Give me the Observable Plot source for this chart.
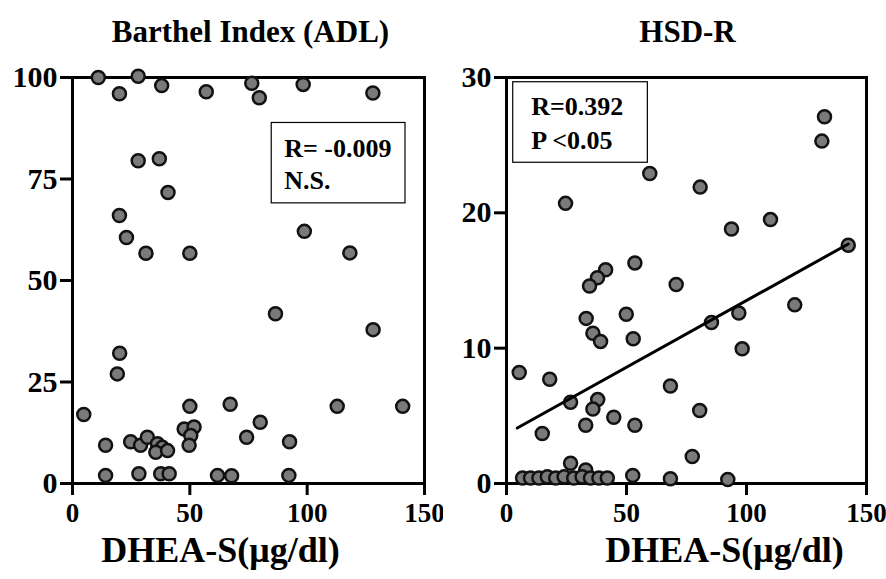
<!DOCTYPE html>
<html>
<head>
<meta charset="utf-8">
<script src="https://cdn.jsdelivr.net/npm/d3@7"></script>
<script src="https://cdn.jsdelivr.net/npm/@observablehq/plot@0.6"></script>
<style>
  html, body { margin: 0; padding: 0; background: #fff; }
  #wrap { display: flex; width: 886px; height: 579px; }
</style>
</head>
<body>
<div id="wrap"></div>
<script>
// ---------- Data ----------
const titles = ["Barthel Index (ADL)", "HSD-R"];
const xLabel = "DHEA-S(μg/dl)";
const xTicks = [0, 50, 100, 150];
const leftYTicks = [0, 25, 50, 75, 100];
const rightYTicks = [0, 10, 20, 30];

// Barthel Index (ADL) vs DHEA-S
const leftX = [11, 28, 20, 38, 57, 76.4, 79.6, 98.3, 128,
  28, 37, 40.7, 20, 23, 31.3, 50, 98.8, 118.2, 86.5, 128.1,
  20.1, 19.1, 4.8, 50, 67.2, 112.8, 140.7, 80, 74.2, 92.5,
  14.1, 24.8, 29, 31.9, 36.2, 38.3, 35.5, 40.5, 47.6, 51.8, 50.4, 49.7,
  14.1, 28.3, 37.6, 41.2, 61.8, 67.8, 92.2];
const leftY = [100, 100.3, 96, 98, 96.5, 98.6, 95, 98.3, 96.2,
  79.5, 80, 71.7, 66, 60.6, 56.7, 56.7, 62.1, 56.8, 41.8, 37.9,
  32.1, 27, 17, 19, 19.5, 19, 19, 15.1, 11.4, 10.3,
  9.4, 10.3, 9.4, 11.4, 9.8, 8.9, 7.7, 8.1, 13.4, 13.9, 11.8, 9.4,
  2, 2.4, 2.4, 2.4, 2, 1.9, 2];

// HSD-R vs DHEA-S
const rightX = [132.5, 131.4, 59.7, 80.7, 24.6, 110, 93.75, 142.4, 53.5,
  41.3, 37.9, 34.6, 70.7, 120.1, 96.8, 49.9, 33.2, 85.4, 36, 52.8, 39.2,
  98.2, 5.3, 18, 68.3, 26.7, 38, 36, 80.5, 44.7, 33, 53.5, 14.9, 77.4,
  26.7, 33, 52.6, 68.3, 92.2,
  6.7, 10, 13.5, 17, 20.5, 24, 28, 31.5, 35, 38.5, 42];
const rightY = [27.1, 25.3, 22.9, 21.9, 20.7, 19.5, 18.8, 17.6, 16.3,
  15.8, 15.2, 14.6, 14.7, 13.2, 12.6, 12.5, 12.2, 11.9, 11.1, 10.7, 10.5,
  9.95, 8.2, 7.7, 7.2, 6, 6.2, 5.5, 5.4, 4.9, 4.3, 4.3, 3.7, 2,
  1.5, 1.0, 0.6, 0.35, 0.3,
  0.4, 0.4, 0.4, 0.5, 0.4, 0.5, 0.4, 0.5, 0.4, 0.4, 0.4];

// regression line
const fitX = [4.5, 142.4];
const fitY = [4.1, 17.7];

// annotation boxes
const leftStats = ["R= -0.009", "N.S."];
const rightStats = ["R=0.392", "P <0.05"];

// ---------- Build ----------
const FONT = "'Liberation Serif', 'DejaVu Serif', serif";
const dotStyle = {r: 6.5, fill: "#7a7a7a", stroke: "#111", strokeWidth: 2.5};

function panel({xs, ys, yDomain, yTicks, title, stats, box, statPos, marginLeft, marginRight, titleDx, labelDx, fit}) {
  const pts = xs.map((x, i) => ({x, y: ys[i]}));
  const marks = [
    Plot.frame({stroke: "black", strokeWidth: 3}),
    Plot.axisX({ticks: xTicks, tickSize: 12, strokeWidth: 3, fontSize: 27, label: null, tickPadding: 7}),
    Plot.axisY({ticks: yTicks, tickSize: 12, strokeWidth: 3, fontSize: 30, label: null, tickPadding: 3}),
    Plot.rect([box], {x1: "x1", x2: "x2", y1: "y1", y2: "y2", fill: "white", stroke: "black", strokeWidth: 1.2}),
    Plot.text(stats, {x: statPos.x, y: (d, i) => statPos.y[i], text: d => d, textAnchor: "start", fontSize: 26, lineAnchor: "middle"}),
    Plot.dot(pts, {x: "x", y: "y", ...dotStyle}),
    Plot.text([title], {frameAnchor: "top", dy: -45, dx: titleDx, fontSize: 31, lineAnchor: "middle"}),
    Plot.text([xLabel], {frameAnchor: "bottom", dy: 67, dx: labelDx, fontSize: 36, lineAnchor: "middle"})
  ];
  if (fit) {
    marks.push(Plot.line(fitX.map((x, i) => ({x, y: fitY[i]})), {x: "x", y: "y", stroke: "black", strokeWidth: 3}));
  }
  return Plot.plot({
    width: 443, height: 579,
    marginLeft, marginRight, marginTop: 77, marginBottom: 96,
    x: {domain: [0, 150]},
    y: {domain: yDomain},
    style: {fontFamily: FONT, fontWeight: "bold", background: "white", color: "black", fontSize: "26px", overflow: "visible"},
    marks
  });
}

const wrap = document.getElementById("wrap");
wrap.append(panel({
  xs: leftX, ys: leftY, yDomain: [0, 100], yTicks: leftYTicks, title: titles[0],
  stats: leftStats, box: {x1: 84.9, x2: 141.9, y1: 69, y2: 88.8},
  statPos: {x: 90.2, y: [82.5, 74.6]},
  marginLeft: 72, marginRight: 19, titleDx: 2, labelDx: -28, fit: false
}));
wrap.append(panel({
  xs: rightX, ys: rightY, yDomain: [0, 30], yTicks: rightYTicks, title: titles[1],
  stats: rightStats, box: {x1: 2.8, x2: 58.9, y1: 23.7, y2: 29.65},
  statPos: {x: 10.3, y: [27.85, 25.3]},
  marginLeft: 63, marginRight: 20, titleDx: 1, labelDx: 38, fit: true
}));
</script>
</body>
</html>
